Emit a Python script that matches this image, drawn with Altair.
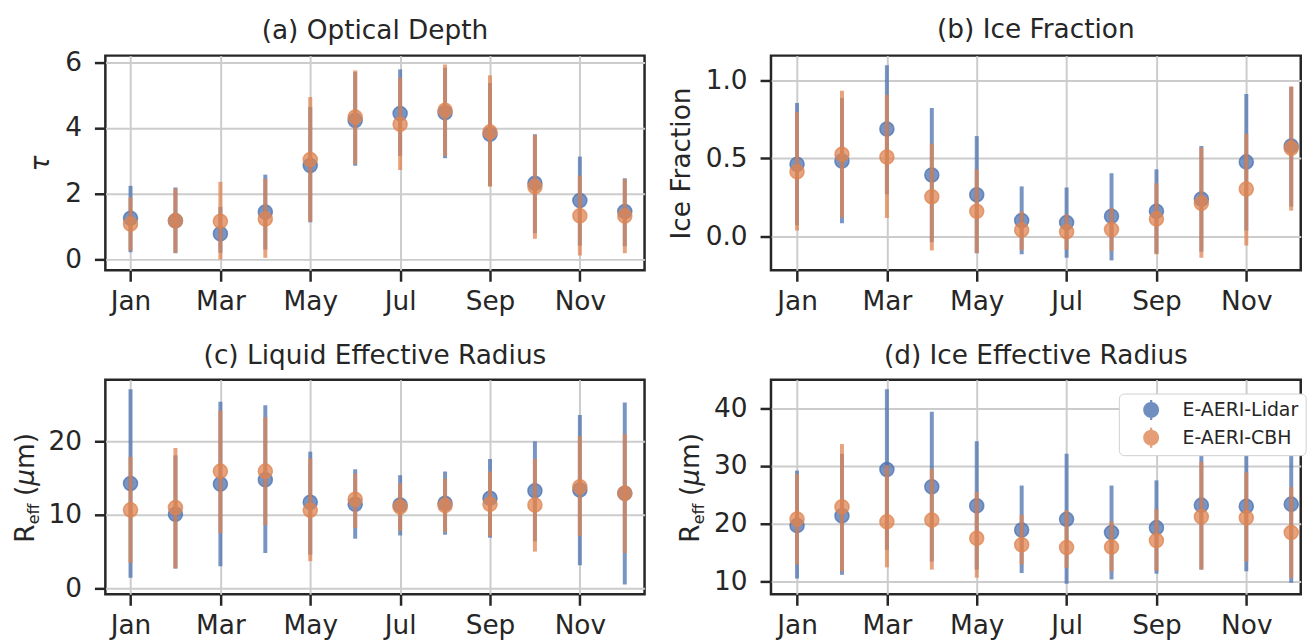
import altair as alt
import pandas as pd

# ---------------- data ----------------
months = list(range(1, 13))
month_names = ["Jan", "Feb", "Mar", "Apr", "May", "Jun",
               "Jul", "Aug", "Sep", "Oct", "Nov", "Dec"]
tick_months = [1, 3, 5, 7, 9, 11]
series_names = ["E-AERI-Lidar", "E-AERI-CBH"]
series_colors = ["#4c72b0", "#dd8452"]

# (a) Optical Depth
a_lidar_mean = [1.25, 1.18, 0.78, 1.44, 2.86, 4.23, 4.44, 4.46, 3.81, 2.32, 1.79, 1.46]
a_lidar_lo = [0.22, 0.19, 0.20, 0.30, 1.13, 2.85, 3.15, 3.08, 2.24, 0.80, 0.42, 0.40]
a_lidar_hi = [2.24, 2.19, 1.60, 2.58, 4.64, 5.70, 5.78, 5.83, 5.37, 3.81, 3.13, 2.47]
a_cbh_mean = [1.08, 1.18, 1.16, 1.23, 3.04, 4.33, 4.11, 4.54, 3.88, 2.21, 1.33, 1.32]
a_cbh_lo = [0.27, 0.20, 0.00, 0.05, 1.15, 2.90, 2.72, 3.15, 2.21, 0.63, 0.12, 0.19]
a_cbh_hi = [1.89, 2.16, 2.36, 2.45, 4.94, 5.75, 5.53, 5.93, 5.60, 3.79, 2.55, 2.44]

# (b) Ice Fraction
b_lidar_mean = [0.463, 0.484, 0.690, 0.394, 0.267, 0.100, 0.087, 0.128, 0.160, 0.239, 0.478, 0.580]
b_lidar_lo = [0.070, 0.083, 0.270, -0.040, -0.110, -0.117, -0.139, -0.156, -0.113, -0.100, 0.036, 0.190]
b_lidar_hi = [0.857, 0.890, 1.100, 0.825, 0.644, 0.320, 0.313, 0.405, 0.430, 0.580, 0.915, 0.960]
b_cbh_mean = [0.414, 0.527, 0.510, 0.254, 0.160, 0.040, 0.028, 0.043, 0.111, 0.211, 0.303, 0.565]
b_cbh_lo = [0.036, 0.120, 0.117, -0.092, -0.109, -0.090, -0.087, -0.096, -0.117, -0.139, -0.060, 0.164]
b_cbh_hi = [0.800, 0.936, 0.910, 0.595, 0.430, 0.160, 0.140, 0.180, 0.340, 0.570, 0.659, 0.964]

# (c) Liquid Effective Radius
c_lidar_mean = [14.28, 10.09, 14.19, 14.77, 11.71, 11.44, 11.35, 11.58, 12.25, 13.29, 13.38, 12.93]
c_lidar_lo = [1.44, 2.70, 3.00, 4.80, 4.60, 6.76, 7.20, 7.30, 6.90, 6.40, 3.15, 0.54]
c_lidar_hi = [27.1, 18.1, 25.4, 24.9, 18.6, 16.2, 15.4, 15.9, 17.6, 20.0, 23.6, 25.3]
c_cbh_mean = [10.68, 10.99, 15.95, 15.95, 10.63, 12.12, 11.08, 11.26, 11.44, 11.35, 13.83, 12.93]
c_cbh_lo = [3.47, 2.70, 7.50, 8.60, 3.70, 8.20, 7.80, 7.66, 7.10, 5.00, 7.10, 4.80]
c_cbh_hi = [17.9, 19.1, 24.2, 23.3, 17.7, 15.6, 14.3, 14.95, 15.9, 17.6, 20.7, 21.0]

# (d) Ice Effective Radius
d_lidar_mean = [19.64, 21.36, 29.39, 26.40, 23.08, 18.89, 20.73, 18.43, 19.29, 23.20, 23.02, 23.37]
d_lidar_lo = [10.46, 11.10, 15.45, 13.40, 12.00, 11.40, 9.54, 10.30, 11.30, 12.00, 11.70, 9.70]
d_lidar_hi = [29.2, 32.1, 43.3, 39.4, 34.3, 26.6, 32.1, 26.6, 27.5, 34.1, 34.1, 37.25]
d_cbh_mean = [20.79, 22.91, 20.33, 20.60, 17.46, 16.31, 15.85, 15.91, 17.06, 21.19, 21.00, 18.43]
d_cbh_lo = [12.9, 11.7, 12.4, 12.0, 10.6, 12.9, 12.3, 11.7, 11.8, 12.0, 13.4, 10.6]
d_cbh_hi = [28.6, 33.8, 30.1, 29.5, 25.5, 21.5, 22.3, 20.4, 22.5, 30.7, 28.9, 26.35]

FONT = "DejaVu Sans"
INK = "#262626"
FS = 26.5

label_expr = "[''," + ",".join("'%s'" % m for m in month_names) + "][datum.value]"


def series_df(name, mean, lo, hi):
    return pd.DataFrame({"month": months, "series": name,
                         "mean": mean, "lo": lo, "hi": hi})


def panel(title, lidar, cbh, xdom, ydom, yvals, yfmt, width, height, title_offset,
          ytitle=None, ytitle_style="normal", reff_label=False, legend=False):
    xenc = alt.X("month:Q",
                 scale=alt.Scale(domain=xdom, nice=False, zero=False),
                 axis=alt.Axis(values=tick_months, labelExpr=label_expr, title=None))
    yscale = alt.Scale(domain=ydom, nice=False, zero=False)
    yaxis = alt.Axis(values=yvals, format=yfmt, title=ytitle,
                     titleFontStyle=ytitle_style)
    layers = []
    for name, col, d in zip(series_names, series_colors, [lidar, cbh]):
        df = series_df(name, *d)
        base = alt.Chart(df)
        rule = base.mark_rule(color=col, strokeWidth=4, opacity=0.75).encode(
            x=xenc, y=alt.Y("lo:Q", scale=yscale, axis=yaxis), y2="hi:Q")
        if legend:
            leg = alt.Legend(
                title=None, orient="none", legendX=350, legendY=14,
                labelFont=FONT, labelFontSize=19, labelColor=INK,
                fillColor="white", strokeColor="#d0d0d0", cornerRadius=5,
                padding=7, rowPadding=7, labelOffset=22, symbolOffset=16,
                symbolType="M -1 0 A 1 1 0 1 1 1 0 A 1 1 0 1 1 -1 0 Z M -0.14 -1.25 L 0.14 -1.25 L 0.14 1.25 L -0.14 1.25 Z",
                symbolSize=256, symbolOpacity=0.8, symbolStrokeWidth=0)
        else:
            leg = None
        pts = base.mark_circle(size=200, fillOpacity=0.75, stroke=col,
                               strokeWidth=1.5, strokeOpacity=0.75).encode(
            x=xenc, y=alt.Y("mean:Q", scale=yscale, axis=yaxis),
            color=alt.Color("series:N",
                            scale=alt.Scale(domain=series_names, range=series_colors),
                            legend=leg))
        layers += [rule, pts]
    if reff_label:
        one = pd.DataFrame({"k": [0]})
        parts = [("R", -72, 164, FS, "normal"),
                 ("eff", -67, 145.6, 16, "normal"),
                 ("(", -72, 117, FS, "normal"),
                 ("μ", -72, 106.7, FS, "italic"),
                 ("m)", -72, 89.8, FS, "normal")]
        for txt, px, py, fs, st in parts:
            layers.append(alt.Chart(one).mark_text(
                angle=270, align="left", baseline="alphabetic", font=FONT,
                fontSize=fs, fontStyle=st, color=INK).encode(
                x=alt.value(px), y=alt.value(py), text=alt.value(txt)))
    return alt.layer(*layers).properties(
        width=width, height=height,
        title=alt.TitleParams(title, fontSize=FS, font=FONT, fontWeight="normal",
                              color=INK, offset=title_offset))


W_LEFT = 542.5
W_RIGHT = 533
H = 216
XDOM_L = [0.44, 12.44]
XDOM_R = [0.42, 0.42 + W_RIGHT / 45.2]

pa = panel("(a) Optical Depth",
           (a_lidar_mean, a_lidar_lo, a_lidar_hi), (a_cbh_mean, a_cbh_lo, a_cbh_hi),
           XDOM_L, [-0.33, 6.2], [0, 2, 4, 6], "d", W_LEFT, H, 5,
           ytitle="τ", ytitle_style="italic")
pb = panel("(b) Ice Fraction",
           (b_lidar_mean, b_lidar_lo, b_lidar_hi), (b_cbh_mean, b_cbh_lo, b_cbh_hi),
           XDOM_R, [-0.22, 1.162], [0.0, 0.5, 1.0], ".1f", W_RIGHT, H, 12,
           ytitle="Ice Fraction")
pc = panel("(c) Liquid Effective Radius",
           (c_lidar_mean, c_lidar_lo, c_lidar_hi), (c_cbh_mean, c_cbh_lo, c_cbh_hi),
           XDOM_L, [-0.81, 28.4], [0, 10, 20], "d", W_LEFT, H, 10, reff_label=True)
pd_ = panel("(d) Ice Effective Radius",
            (d_lidar_mean, d_lidar_lo, d_lidar_hi), (d_cbh_mean, d_cbh_lo, d_cbh_hi),
            XDOM_R, [7.71, 44.99], [10, 20, 30, 40], "d", W_RIGHT, H, 10,
            reff_label=True, legend=True)

chart = alt.concat(
    pa, pb, pc, pd_, columns=2, bounds="flush",
    spacing=alt.RowColnumber(row=110, column=126.7),
).resolve_scale(color="independent").resolve_legend(color="independent").properties(
    padding={"left": 11, "top": 14, "right": 0, "bottom": 0},
    background="white",
).configure_view(
    stroke=INK, strokeWidth=2.5
).configure_axis(
    domain=False, tickColor=INK, tickWidth=2.5, tickSize=11,
    labelFont=FONT, labelFontSize=FS, labelColor=INK,
    gridColor="#cccccc", gridWidth=2,
    titleFont=FONT, titleFontSize=FS, titleFontWeight="normal", titleColor=INK,
    titlePadding=10,
).configure_axisX(labelPadding=7).configure_axisY(labelPadding=13)

chart.save("out.html", embed_options={"renderer": "svg", "actions": False})
